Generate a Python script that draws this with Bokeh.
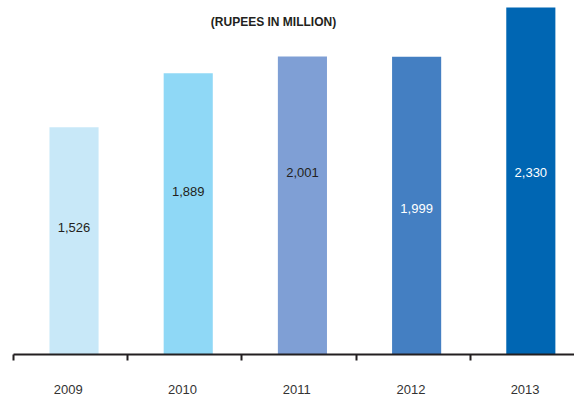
from bokeh.plotting import figure
from bokeh.models import ColumnDataSource, FixedTicker, Range1d, Label
from bokeh.core.properties import value
from bokeh.embed import file_html
from bokeh.resources import INLINE

# ---- data ----
years = ["2009", "2010", "2011", "2012", "2013"]
amounts = [1526, 1889, 2001, 1999, 2330]
amount_labels = ["1,526", "1,889", "2,001", "1,999", "2,330"]
bar_colors = ["#c8e8f8", "#8fd8f6", "#7f9fd5", "#447fc2", "#0066b3"]
label_colors = ["#231f20", "#231f20", "#231f20", "#ffffff", "#ffffff"]
label_frac = [0.56, 0.58, 0.61, 0.49, 0.525]  # vertical placement of value text within each bar

n = len(years)
bar_x = [i + 0.53 for i in range(n)]
label_x = [i + 0.48 for i in range(n)]
label_y = [a * f for a, f in zip(amounts, label_frac)]

src = ColumnDataSource(dict(x=bar_x, top=amounts, color=bar_colors,
                            lbl=amount_labels, ly=label_y, lc=label_colors))

x_end = (574 - 13) / 114.2
p = figure(width=574, height=398, output_backend="svg", toolbar_location=None,
           x_range=Range1d(-13 / 114.2, x_end), y_range=Range1d(0, 2377),
           min_border_left=0, min_border_right=0, min_border_top=0, min_border_bottom=44)
p.outline_line_color = None
p.background_fill_color = "white"
p.border_fill_color = "white"
p.grid.visible = False
p.yaxis.visible = False

p.vbar(x="x", top="top", bottom=0, width=0.43, fill_color="color", line_color=None, source=src)
p.text(x="x", y="ly", text="lbl", text_color="lc", source=src,
       text_align="center", text_baseline="middle",
       text_font=value("Liberation Sans"), text_font_size="13px")

ax = p.xaxis[0]
ax.ticker = FixedTicker(ticks=label_x, minor_ticks=list(range(n)))
ax.major_label_overrides = {lx: y for lx, y in zip(label_x, years)}
ax.bounds = (0, x_end)
ax.axis_line_color = "#231f20"
ax.axis_line_width = 2
ax.major_tick_line_color = None
ax.major_tick_out = 0
ax.major_tick_in = 0
ax.minor_tick_line_color = "#231f20"
ax.minor_tick_line_width = 2
ax.minor_tick_out = 6
ax.minor_tick_in = 0
ax.major_label_standoff = 24
ax.major_label_text_font = "Liberation Sans"
ax.major_label_text_font_size = "13px"
ax.major_label_text_color = "#333333"

title = Label(x=273, y=333, x_units="screen", y_units="screen",
              text="(RUPEES IN MILLION)", text_align="center", text_baseline="middle",
              text_font="Liberation Sans", text_font_size="12px", text_font_style="bold",
              text_color="#231f20")
p.add_layout(title)

open("out.html", "w").write(file_html(p, INLINE))
